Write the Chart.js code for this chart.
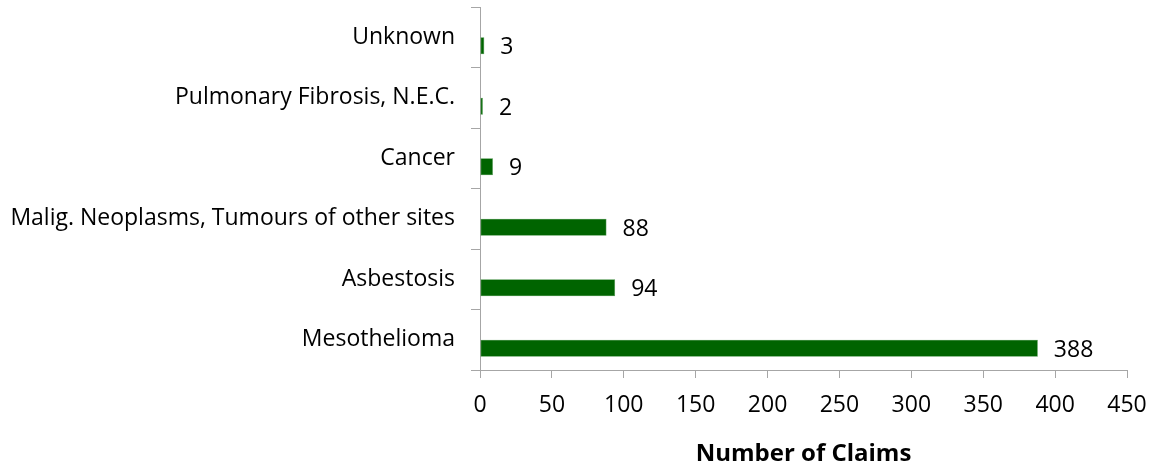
<!DOCTYPE html>
<html>
<head>
<meta charset="utf-8">
<script src="https://cdn.jsdelivr.net/npm/chart.js@4/dist/chart.umd.min.js"></script>
<style>
  html, body { margin: 0; padding: 0; background: #fff; }
  #wrap { width: 1152px; height: 469px; }
</style>
</head>
<body>
<div id="wrap"><canvas id="chart"></canvas></div>
<script>
const categories = ['Unknown', 'Pulmonary Fibrosis, N.E.C.', 'Cancer', 'Malig. Neoplasms, Tumours of other sites', 'Asbestosis', 'Mesothelioma'];
const claims = [3, 2, 9, 88, 94, 388];
const emptySeries = [null, null, null, null, null, null];
const xTicks = [0, 50, 100, 150, 200, 250, 300, 350, 400, 450];

const fontFamily = "'Open Sans', sans-serif";
const axisGrey = '#a6a6a6';

// value labels at the end of each bar
const barLabels = {
  id: 'barLabels',
  afterDatasetsDraw(chart) {
    const ctx = chart.ctx;
    const meta = chart.getDatasetMeta(1);
    ctx.save();
    ctx.font = '23px ' + fontFamily;
    ctx.fillStyle = '#000';
    ctx.textAlign = 'left';
    ctx.textBaseline = 'middle';
    meta.data.forEach((bar, i) => {
      ctx.fillText(String(claims[i]), bar.x + 16, bar.y + 2);
    });
    ctx.restore();
  }
};

const ctx = document.getElementById('chart').getContext('2d');
const chart = new Chart(ctx, {
  type: 'bar',
  data: {
    labels: categories,
    datasets: [{
      label: '',
      data: emptySeries,
      backgroundColor: '#006400'
    }, {
      label: 'Number of Claims',
      data: claims,
      backgroundColor: '#006400',
      borderColor: '#3f8f3f',
      borderWidth: 0.6,
      borderSkipped: false
    }]
  },
  options: {
    indexAxis: 'y',
    responsive: true,
    maintainAspectRatio: false,
    animation: false,
    categoryPercentage: 0.562,
    barPercentage: 1,
    layout: { padding: { top: 7, right: 25, left: 0, bottom: 0 } },
    plugins: {
      legend: { display: false },
      tooltip: { enabled: false }
    },
    scales: {
      x: {
        min: 0,
        max: 450,
        afterBuildTicks(scale) {
          scale.ticks = xTicks.map(v => ({ value: v }));
        },
        afterFit(scale) {
          scale.height = 99;
          scale.paddingLeft = 0;
          scale.paddingRight = 0;
        },
        grid: {
          drawOnChartArea: false,
          drawTicks: true,
          tickLength: 8,
          color: axisGrey
        },
        border: { display: true, color: axisGrey, width: 1 },
        ticks: {
          padding: 14,
          color: '#000',
          font: { family: fontFamily, size: 23 }
        },
        title: {
          display: true,
          text: 'Number of Claims',
          color: '#000',
          padding: { top: 0, bottom: 0 },
          font: { family: fontFamily, size: 24, weight: 'bold' }
        }
      },
      y: {
        afterFit(scale) {
          scale.width = 480;
          scale.paddingTop = 0;
          scale.paddingBottom = 0;
        },
        grid: {
          drawOnChartArea: false,
          drawTicks: true,
          tickLength: 9,
          offset: true,
          color: axisGrey
        },
        border: { display: true, color: axisGrey, width: 1 },
        ticks: {
          padding: 16,
          color: '#000',
          font: { family: fontFamily, size: 23 }
        }
      }
    }
  },
  plugins: [barLabels]
});
</script>
</body>
</html>
